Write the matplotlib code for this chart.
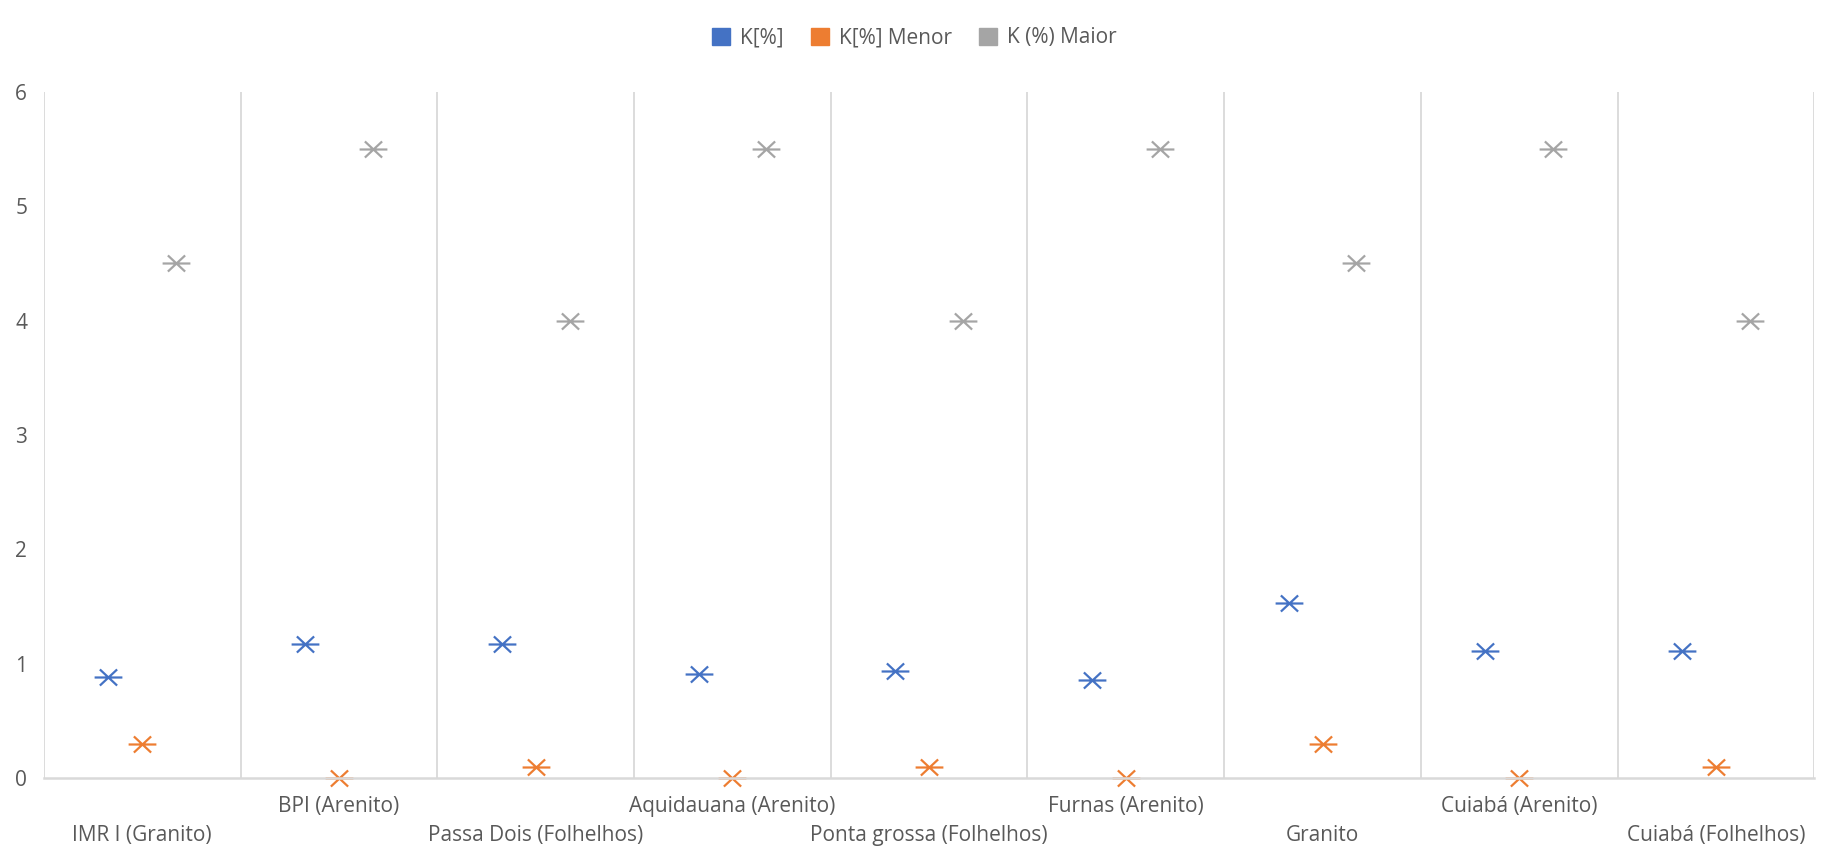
import matplotlib
matplotlib.use("Agg")
import matplotlib.pyplot as plt
from matplotlib.path import Path
from matplotlib.patches import Patch
import numpy as np

categories = [
    "IMR I (Granito)", "BPI (Arenito)", "Passa Dois (Folhelhos)",
    "Aquidauana (Arenito)", "Ponta grossa (Folhelhos)", "Furnas (Arenito)",
    "Granito", "Cuiabá (Arenito)", "Cuiabá (Folhelhos)",
]
k_pct = [0.88, 1.17, 1.17, 0.91, 0.94, 0.86, 1.53, 1.11, 1.11]
k_menor = [0.3, 0.0, 0.1, 0.0, 0.1, 0.0, 0.3, 0.0, 0.1]
k_maior = [4.5, 5.5, 4.0, 5.5, 4.0, 5.5, 4.5, 5.5, 4.0]

series = [
    ("K[%]", k_pct, "#4472C4"),
    ("K[%] Menor", k_menor, "#ED7D31"),
    ("K (%) Maior", k_maior, "#A5A5A5"),
]

text_color = "#595959"
grid_color = "#D9D9D9"
fs = 15
plt.rcParams["font.family"] = ["Open Sans", "DejaVu Sans"]

# star marker: a horizontal bar with a narrower X through it
star = Path(
    [(-1, 0), (1, 0), (-0.62, -0.58), (0.62, 0.58), (-0.62, 0.58), (0.62, -0.58)],
    [Path.MOVETO, Path.LINETO, Path.MOVETO, Path.LINETO, Path.MOVETO, Path.LINETO],
)

fig = plt.figure(figsize=(18.29, 8.59), dpi=100)
ax = fig.add_axes([0.024, 0.0943, 0.968, 0.7987])

n = len(categories)
x = np.arange(n)
offsets = [-0.172, 0.0, 0.172]

for (name, vals, color), off in zip(series, offsets):
    ax.plot(x + off, vals, linestyle="none", marker=star, markersize=20,
            markeredgewidth=1.6, color=color, zorder=2, clip_on=False)

ax.set_xlim(-0.5, n - 0.5)
ax.set_ylim(0, 6)
ax.set_yticks(range(0, 7))
ax.tick_params(axis="y", length=0, pad=12, labelsize=fs, labelcolor=text_color)

# category separators
for b in np.arange(-0.5, n, 1.0):
    ax.axvline(b, color=grid_color, linewidth=1.3, zorder=1)

# staggered category labels
ax.set_xticks(x[0::2])
ax.set_xticklabels(categories[0::2])
ax.set_xticks(x[1::2], minor=True)
ax.set_xticklabels(categories[1::2], minor=True)
ax.tick_params(axis="x", which="major", length=0, pad=34, labelsize=fs, labelcolor=text_color)
ax.tick_params(axis="x", which="minor", length=0, pad=13, labelsize=fs, labelcolor=text_color)

for side in ("top", "right", "left"):
    ax.spines[side].set_visible(False)
ax.spines["bottom"].set_color(grid_color)
ax.spines["bottom"].set_linewidth(1.8)
ax.spines["bottom"].set_zorder(3)

handles = [Patch(facecolor=c, edgecolor=c, label=nm) for nm, _, c in series]
leg = fig.legend(handles=handles, loc="center", bbox_to_anchor=(0.5, 1 - 38 / 859),
                 ncol=3, frameon=False, fontsize=fs, handlelength=0.85,
                 handleheight=0.85, handletextpad=0.5, columnspacing=1.3)
for t in leg.get_texts():
    t.set_color(text_color)

fig.savefig("out.png", dpi=100, facecolor="white")
